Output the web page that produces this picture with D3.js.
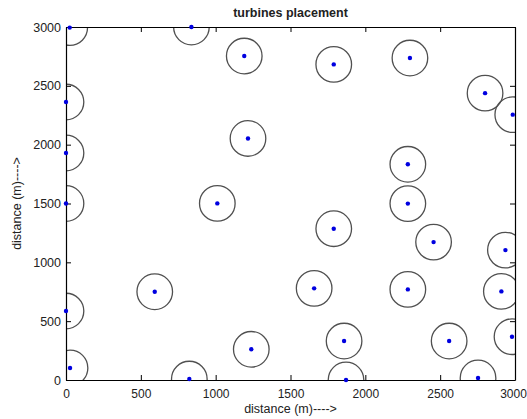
<!DOCTYPE html>
<html>
<head>
<meta charset="utf-8">
<script src="https://cdn.jsdelivr.net/npm/d3@7"></script>
<style>
  body { margin: 0; background: #fff; }
  svg { display: block; font-family: "Liberation Sans", Arial, sans-serif; }
</style>
</head>
<body>
<div id="chart"></div>
<script>
// Posiciones de las turbinas (m)
const turbineX = [25, 838, 1191, 1789, 2298, 2800, 2985, 0, 1216, 0, 2284, 0, 1011, 2284,
  1789, 2456, 2936, 593, 1658, 2284, 2909, 0, 2980, 1858, 2560, 1238, 27, 824, 1871, 2753];
const turbineY = [2995, 3000, 2753, 2682, 2736, 2438, 2255, 2362, 2053, 1929, 1833, 1500, 1501, 1499,
  1286, 1172, 1104, 750, 779, 770, 753, 586, 368, 331, 331, 261, 102, 8, 0, 17];
const xTicks = [0, 500, 1000, 1500, 2000, 2500, 3000];
const yTicks = [0, 500, 1000, 1500, 2000, 2500, 3000];

const width = 527, height = 419;
const marginLeft = 66, marginRight = 12, marginTop = 27, marginBottom = 39;
const radius = 17.8;

const x = d3.scaleLinear().domain([0, 3000]).range([marginLeft, width - marginRight]);
const y = d3.scaleLinear().domain([0, 3000]).range([height - marginBottom, marginTop]);

const svg = d3.select("#chart").append("svg")
  .attr("width", width)
  .attr("height", height);

svg.append("defs").append("clipPath")
  .attr("id", "clip")
  .append("rect")
  .attr("x", x(0)).attr("y", y(3000))
  .attr("width", x(3000) - x(0)).attr("height", y(0) - y(3000));

const data = turbineX.map((d, i) => ({ x: d, y: turbineY[i] }));

// Círculos (recortados al área del gráfico)
svg.append("g")
  .attr("clip-path", "url(#clip)")
  .selectAll("circle")
  .data(data)
  .join("circle")
  .attr("cx", d => x(d.x))
  .attr("cy", d => y(d.y))
  .attr("r", radius)
  .attr("fill", "none")
  .attr("stroke", "#505050")
  .attr("stroke-width", 1.3);

// Ejes con marcas hacia dentro en los cuatro lados
const fmt = d3.format("d");
svg.append("g")
  .attr("transform", `translate(0,${y(0)})`)
  .call(d3.axisBottom(x).tickValues(xTicks).tickSize(-5).tickSizeOuter(0).tickPadding(9).tickFormat(fmt))
  .call(g => g.selectAll("text").attr("font-size", 12).attr("fill", "#222"))
  .call(g => g.selectAll(".tick:last-of-type text").attr("dx", -2));
svg.append("g")
  .attr("transform", `translate(0,${y(3000)})`)
  .call(d3.axisTop(x).tickValues(xTicks).tickSize(-5).tickSizeOuter(0).tickFormat(""));
svg.append("g")
  .attr("transform", `translate(${x(0)},0)`)
  .call(d3.axisLeft(y).tickValues(yTicks).tickSize(-5).tickSizeOuter(0).tickPadding(5).tickFormat(fmt))
  .call(g => g.selectAll("text").attr("font-size", 12.5).attr("fill", "#222"));
svg.append("g")
  .attr("transform", `translate(${x(3000)},0)`)
  .call(d3.axisRight(y).tickValues(yTicks).tickSize(-5).tickSizeOuter(0).tickFormat(""));

svg.selectAll(".domain").attr("stroke", "#000").attr("stroke-width", 1.2);
svg.selectAll(".tick line").attr("stroke", "#000");

// Puntos azules
svg.append("g")
  .selectAll("circle")
  .data(data)
  .join("circle")
  .attr("cx", d => x(d.x))
  .attr("cy", d => y(d.y))
  .attr("r", 2.2)
  .attr("fill", "#0000e0");

// Títulos
svg.append("text")
  .attr("x", (x(0) + x(3000)) / 2)
  .attr("y", 17)
  .attr("text-anchor", "middle")
  .attr("font-weight", "bold")
  .attr("font-size", 12.5)
  .attr("fill", "#222")
  .text("turbines placement");

svg.append("text")
  .attr("x", (x(0) + x(3000)) / 2)
  .attr("y", 413)
  .attr("text-anchor", "middle")
  .attr("font-size", 12.5)
  .attr("fill", "#222")
  .text("distance (m)---->");

svg.append("text")
  .attr("transform", `translate(21,${(y(0) + y(3000)) / 2}) rotate(-90)`)
  .attr("text-anchor", "middle")
  .attr("font-size", 12.5)
  .attr("fill", "#222")
  .text("distance (m)---->");
</script>
</body>
</html>
